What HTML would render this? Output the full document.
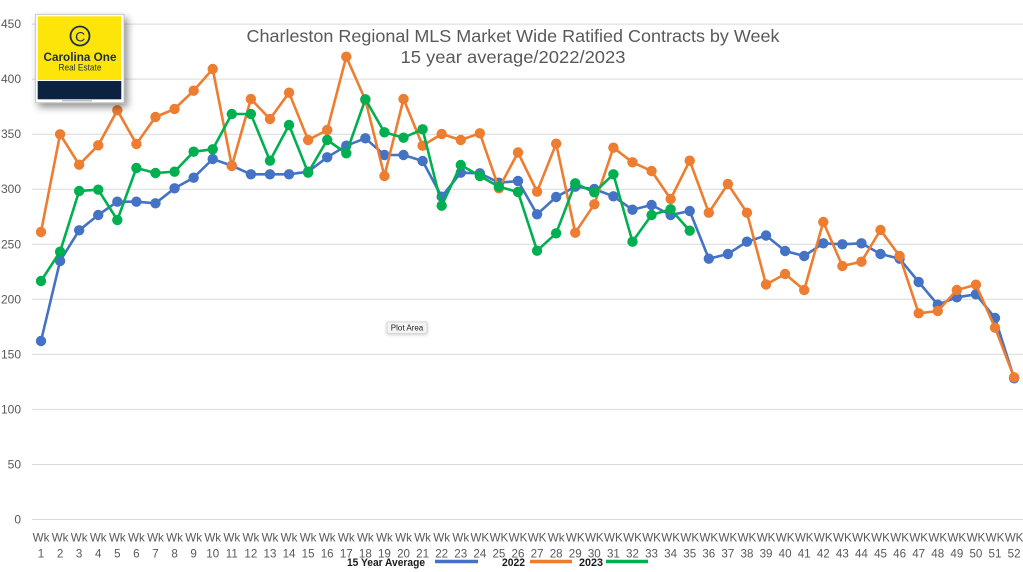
<!DOCTYPE html>
<html>
<head>
<meta charset="utf-8">
<style>
html,body{margin:0;padding:0;background:#fff;}
svg{display:block;}
text{font-family:"Liberation Sans",Arial,sans-serif;}
.yl{font-size:12px;fill:#595959;text-anchor:end;}
.xw{font-size:11.6px;fill:#595959;text-anchor:middle;}
.lg{font-size:11px;font-weight:bold;fill:#1a1a1a;}
</style>
</head>
<body>
<svg width="1023" height="572" viewBox="0 0 1023 572" xmlns="http://www.w3.org/2000/svg">
<defs>
<marker id="mb" markerUnits="userSpaceOnUse" markerWidth="12" markerHeight="12" refX="6" refY="6" viewBox="0 0 12 12"><circle cx="6" cy="6" r="5.2" fill="#4472C4"/></marker>
<marker id="mo" markerUnits="userSpaceOnUse" markerWidth="12" markerHeight="12" refX="6" refY="6" viewBox="0 0 12 12"><circle cx="6" cy="6" r="5.2" fill="#ED7D31"/></marker>
<marker id="mg" markerUnits="userSpaceOnUse" markerWidth="12" markerHeight="12" refX="6" refY="6" viewBox="0 0 12 12"><circle cx="6" cy="6" r="5.2" fill="#00B050"/></marker>
<filter id="sh" x="-30%" y="-30%" width="170%" height="170%"><feDropShadow dx="3" dy="4" stdDeviation="4" flood-color="#000" flood-opacity="0.45"/></filter>
<filter id="sh2" x="-30%" y="-50%" width="160%" height="200%"><feDropShadow dx="0" dy="1" stdDeviation="1.5" flood-color="#000" flood-opacity="0.2"/></filter>
</defs>

<!-- gridlines -->
<g stroke="#d9d9d9" stroke-width="1">
<line x1="32" y1="519.5" x2="1023" y2="519.5"/>
<line x1="32" y1="464.5" x2="1023" y2="464.5"/>
<line x1="32" y1="409.4" x2="1023" y2="409.4"/>
<line x1="32" y1="354.4" x2="1023" y2="354.4"/>
<line x1="32" y1="299.3" x2="1023" y2="299.3"/>
<line x1="32" y1="244.3" x2="1023" y2="244.3"/>
<line x1="32" y1="189.2" x2="1023" y2="189.2"/>
<line x1="32" y1="134.2" x2="1023" y2="134.2"/>
<line x1="32" y1="79.1" x2="1023" y2="79.1"/>
<line x1="32" y1="24.1" x2="1023" y2="24.1"/>
</g>

<!-- y labels -->
<text class="yl" x="21" y="523.5">0</text>
<text class="yl" x="21" y="468.5">50</text>
<text class="yl" x="21" y="413.4">100</text>
<text class="yl" x="21" y="358.4">150</text>
<text class="yl" x="21" y="303.3">200</text>
<text class="yl" x="21" y="248.3">250</text>
<text class="yl" x="21" y="193.2">300</text>
<text class="yl" x="21" y="138.2">350</text>
<text class="yl" x="21" y="83.1">400</text>
<text class="yl" x="21" y="28.1">450</text>

<!-- title -->
<text x="513" y="42" font-size="17.5" fill="#595959" text-anchor="middle" textLength="533" lengthAdjust="spacingAndGlyphs">Charleston Regional MLS Market Wide Ratified Contracts by Week</text>
<text x="513" y="63" font-size="17.5" fill="#595959" text-anchor="middle" textLength="225" lengthAdjust="spacingAndGlyphs">15 year average/2022/2023</text>

<!-- series -->
<polyline fill="none" stroke="#4472C4" stroke-width="2.6" stroke-linejoin="round" marker-start="url(#mb)" marker-mid="url(#mb)" marker-end="url(#mb)" points="41,341 60.08,261 79.16,230.3 98.24,215 117.32,201.7 136.4,201.7 155.48,203.3 174.56,188.3 193.64,177.7 212.72,159 231.8,165.7 250.88,174.3 269.96,174.3 289.04,174.3 308.12,171.7 327.2,157.3 346.28,145.7 365.36,138.3 384.44,155 403.52,155 422.6,161 441.68,196.7 460.76,172.7 479.84,173.3 498.92,182.7 518,181 537.08,214.3 556.16,197 575.24,186.7 594.32,189 613.4,196.3 632.48,209.7 651.56,205 670.64,215 689.72,211 708.8,258.7 727.88,254 746.96,241.7 766.04,235.5 785.12,251 804.2,256 823.28,243.3 842.36,244.3 861.44,243.3 880.52,254 899.6,258.7 918.68,282 937.76,304.7 956.84,297.3 975.92,294.3 995,318 1014.08,378.3"/>
<polyline fill="none" stroke="#ED7D31" stroke-width="2.6" stroke-linejoin="round" marker-start="url(#mo)" marker-mid="url(#mo)" marker-end="url(#mo)" points="41,232 60.08,134.3 79.16,164.7 98.24,145.3 117.32,110.3 136.4,144 155.48,117 174.56,109 193.64,90.7 212.72,69 231.8,166 250.88,99 269.96,119 289.04,92.7 308.12,140 327.2,130 346.28,56.7 365.36,100 384.44,176 403.52,99 422.6,145.7 441.68,134 460.76,140 479.84,133.3 498.92,188.3 518,152.5 537.08,191.7 556.16,143.7 575.24,232.7 594.32,204.3 613.4,147.7 632.48,162.3 651.56,171 670.64,199 689.72,160.7 708.8,212.7 727.88,184 746.96,212.7 766.04,284.5 785.12,274 804.2,290 823.28,222 842.36,266 861.44,261.7 880.52,230 899.6,256 918.68,313.3 937.76,311 956.84,290 975.92,284.7 995,327.7 1014.08,377.3"/>
<polyline fill="none" stroke="#00B050" stroke-width="2.6" stroke-linejoin="round" marker-start="url(#mg)" marker-mid="url(#mg)" marker-end="url(#mg)" points="41,281 60.08,251.7 79.16,191 98.24,189.7 117.32,220 136.4,168 155.48,173 174.56,171.7 193.64,151.7 212.72,149.3 231.8,114 250.88,114 269.96,160.7 289.04,125 308.12,172.7 327.2,140 346.28,153.3 365.36,99.3 384.44,132.3 403.52,137.7 422.6,129.3 441.68,205.7 460.76,165 479.84,176 498.92,186.7 518,192 537.08,250.7 556.16,233.3 575.24,183.3 594.32,192.3 613.4,174.3 632.48,241.7 651.56,215 670.64,209.3 689.72,230.7"/>

<!-- x labels -->
<g class="xw">
<text class="xw" x="41" y="541.5">Wk</text><text class="xw" x="41" y="557.5">1</text>
<text class="xw" x="60.08" y="541.5">Wk</text><text class="xw" x="60.08" y="557.5">2</text>
<text class="xw" x="79.16" y="541.5">Wk</text><text class="xw" x="79.16" y="557.5">3</text>
<text class="xw" x="98.24" y="541.5">Wk</text><text class="xw" x="98.24" y="557.5">4</text>
<text class="xw" x="117.32" y="541.5">Wk</text><text class="xw" x="117.32" y="557.5">5</text>
<text class="xw" x="136.4" y="541.5">Wk</text><text class="xw" x="136.4" y="557.5">6</text>
<text class="xw" x="155.48" y="541.5">Wk</text><text class="xw" x="155.48" y="557.5">7</text>
<text class="xw" x="174.56" y="541.5">Wk</text><text class="xw" x="174.56" y="557.5">8</text>
<text class="xw" x="193.64" y="541.5">Wk</text><text class="xw" x="193.64" y="557.5">9</text>
<text class="xw" x="212.72" y="541.5">Wk</text><text class="xw" x="212.72" y="557.5">10</text>
<text class="xw" x="231.8" y="541.5">Wk</text><text class="xw" x="231.8" y="557.5">11</text>
<text class="xw" x="250.88" y="541.5">Wk</text><text class="xw" x="250.88" y="557.5">12</text>
<text class="xw" x="269.96" y="541.5">Wk</text><text class="xw" x="269.96" y="557.5">13</text>
<text class="xw" x="289.04" y="541.5">Wk</text><text class="xw" x="289.04" y="557.5">14</text>
<text class="xw" x="308.12" y="541.5">Wk</text><text class="xw" x="308.12" y="557.5">15</text>
<text class="xw" x="327.2" y="541.5">Wk</text><text class="xw" x="327.2" y="557.5">16</text>
<text class="xw" x="346.28" y="541.5">Wk</text><text class="xw" x="346.28" y="557.5">17</text>
<text class="xw" x="365.36" y="541.5">Wk</text><text class="xw" x="365.36" y="557.5">18</text>
<text class="xw" x="384.44" y="541.5">Wk</text><text class="xw" x="384.44" y="557.5">19</text>
<text class="xw" x="403.52" y="541.5">Wk</text><text class="xw" x="403.52" y="557.5">20</text>
<text class="xw" x="422.6" y="541.5">Wk</text><text class="xw" x="422.6" y="557.5">21</text>
<text class="xw" x="441.68" y="541.5">Wk</text><text class="xw" x="441.68" y="557.5">22</text>
<text class="xw" x="460.76" y="541.5">Wk</text><text class="xw" x="460.76" y="557.5">23</text>
<text class="xw" x="479.84" y="541.5">WK</text><text class="xw" x="479.84" y="557.5">24</text>
<text class="xw" x="498.92" y="541.5">WK</text><text class="xw" x="498.92" y="557.5">25</text>
<text class="xw" x="518" y="541.5">WK</text><text class="xw" x="518" y="557.5">26</text>
<text class="xw" x="537.08" y="541.5">WK</text><text class="xw" x="537.08" y="557.5">27</text>
<text class="xw" x="556.16" y="541.5">Wk</text><text class="xw" x="556.16" y="557.5">28</text>
<text class="xw" x="575.24" y="541.5">WK</text><text class="xw" x="575.24" y="557.5">29</text>
<text class="xw" x="594.32" y="541.5">WK</text><text class="xw" x="594.32" y="557.5">30</text>
<text class="xw" x="613.4" y="541.5">WK</text><text class="xw" x="613.4" y="557.5">31</text>
<text class="xw" x="632.48" y="541.5">WK</text><text class="xw" x="632.48" y="557.5">32</text>
<text class="xw" x="651.56" y="541.5">WK</text><text class="xw" x="651.56" y="557.5">33</text>
<text class="xw" x="670.64" y="541.5">WK</text><text class="xw" x="670.64" y="557.5">34</text>
<text class="xw" x="689.72" y="541.5">WK</text><text class="xw" x="689.72" y="557.5">35</text>
<text class="xw" x="708.8" y="541.5">WK</text><text class="xw" x="708.8" y="557.5">36</text>
<text class="xw" x="727.88" y="541.5">WK</text><text class="xw" x="727.88" y="557.5">37</text>
<text class="xw" x="746.96" y="541.5">WK</text><text class="xw" x="746.96" y="557.5">38</text>
<text class="xw" x="766.04" y="541.5">WK</text><text class="xw" x="766.04" y="557.5">39</text>
<text class="xw" x="785.12" y="541.5">WK</text><text class="xw" x="785.12" y="557.5">40</text>
<text class="xw" x="804.2" y="541.5">WK</text><text class="xw" x="804.2" y="557.5">41</text>
<text class="xw" x="823.28" y="541.5">WK</text><text class="xw" x="823.28" y="557.5">42</text>
<text class="xw" x="842.36" y="541.5">WK</text><text class="xw" x="842.36" y="557.5">43</text>
<text class="xw" x="861.44" y="541.5">WK</text><text class="xw" x="861.44" y="557.5">44</text>
<text class="xw" x="880.52" y="541.5">WK</text><text class="xw" x="880.52" y="557.5">45</text>
<text class="xw" x="899.6" y="541.5">WK</text><text class="xw" x="899.6" y="557.5">46</text>
<text class="xw" x="918.68" y="541.5">WK</text><text class="xw" x="918.68" y="557.5">47</text>
<text class="xw" x="937.76" y="541.5">WK</text><text class="xw" x="937.76" y="557.5">48</text>
<text class="xw" x="956.84" y="541.5">WK</text><text class="xw" x="956.84" y="557.5">49</text>
<text class="xw" x="975.92" y="541.5">WK</text><text class="xw" x="975.92" y="557.5">50</text>
<text class="xw" x="995" y="541.5">WK</text><text class="xw" x="995" y="557.5">51</text>
<text class="xw" x="1014.08" y="541.5">WK</text><text class="xw" x="1014.08" y="557.5">52</text>
</g>

<!-- legend -->
<text class="lg" x="347" y="566" textLength="78" lengthAdjust="spacingAndGlyphs">15 Year Average</text>
<line x1="435" y1="561.5" x2="478" y2="561.5" stroke="#4472C4" stroke-width="3.5"/>
<text class="lg" x="502" y="566" textLength="23" lengthAdjust="spacingAndGlyphs">2022</text>
<line x1="530" y1="561.5" x2="572" y2="561.5" stroke="#ED7D31" stroke-width="3.5"/>
<text class="lg" x="579" y="566" textLength="24" lengthAdjust="spacingAndGlyphs">2023</text>
<line x1="606" y1="561.5" x2="648" y2="561.5" stroke="#00B050" stroke-width="3.5"/>

<!-- Plot Area tooltip -->
<rect x="387" y="322" width="40" height="11.5" rx="1" fill="#f4f4f4" stroke="#cfcfcf" stroke-width="0.8" filter="url(#sh2)"/>
<text x="407" y="330.6" font-size="8" fill="#222" text-anchor="middle">Plot Area</text>

<!-- logo -->
<g filter="url(#sh)">
<rect x="35.7" y="14.3" width="88.3" height="88.4" fill="#ffffff" stroke="#bdbdbd" stroke-width="0.8"/>
</g>
<rect x="37.7" y="16.3" width="83.6" height="63.7" fill="#FDE50A"/>
<rect x="37.7" y="81" width="83.6" height="18.3" fill="#0B2341"/>
<rect x="62" y="100.3" width="30" height="1" fill="#9aa4b5"/>
<circle cx="80" cy="36" r="9.5" fill="none" stroke="#1B2D52" stroke-width="1.8"/>
<text x="80.2" y="41.3" font-size="14" fill="#1B2D52" text-anchor="middle">C</text>
<text x="80" y="61" font-size="12" font-weight="bold" fill="#1B2D52" text-anchor="middle" textLength="73" lengthAdjust="spacingAndGlyphs">Carolina One</text>
<text x="80" y="70.3" font-size="9.3" fill="#1B2D52" text-anchor="middle" textLength="43" lengthAdjust="spacingAndGlyphs">Real Estate</text>
</svg>
</body>
</html>
